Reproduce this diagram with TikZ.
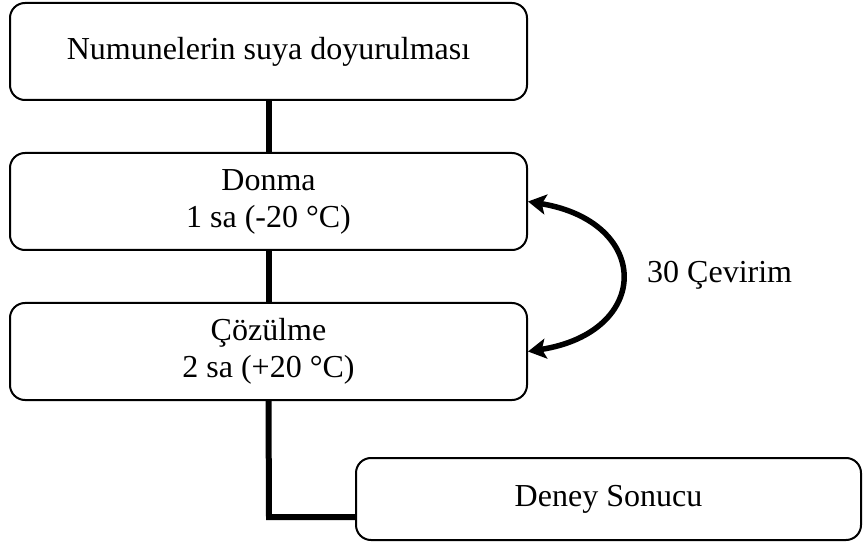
\documentclass[tikz,border=0pt]{standalone}
\usepackage{fontspec}
\setmainfont{Liberation Serif}
\usetikzlibrary{arrows.meta}
\begin{document}
\begin{tikzpicture}[x=1pt,y=-1pt,
  box/.style={draw, line width=2pt, rounded corners=15pt, font=\fontsize{32}{37}\selectfont, align=center, inner sep=0pt},
  conn/.style={line width=6pt},
  cyc/.style={line width=5.5pt, {Stealth[length=18pt,width=20pt,inset=4pt]}-{Stealth[length=18pt,width=20pt,inset=4pt]}}]
\useasboundingbox (0,0) rectangle (865,545);
\node[box, minimum width=517pt, minimum height=97pt] (b1) at (268.5,51.5) {Numunelerin suya doyurulması};
\node[box, minimum width=517pt, minimum height=97pt] (b2) at (268.5,201.5) {Donma\\1 sa (-20 °C)};
\node[box, minimum width=517pt, minimum height=97pt] (b3) at (268.5,351.5) {Çözülme\\2 sa (+20 °C)};
\node[box, minimum width=505pt, minimum height=82pt] (b4) at (608.5,499) {Deney Sonucu};
\coordinate (k) at (269,517);
\draw[conn] (b1.south) -- (b2.north);
\draw[conn] (b2.south) -- (b3.north);
\draw[conn] (b3.south) -- (k) -- (k -| b4.west);
\coordinate (c1) at (652,222);
\coordinate (c2) at (652,332);
\draw[cyc] (b2.east) .. controls (c1) and (c2) .. (b3.east);
\node[font=\fontsize{32}{37}\selectfont, anchor=west, inner sep=0pt] (lbl) at (647,275) {30 Çevirim};
\end{tikzpicture}
\end{document}
